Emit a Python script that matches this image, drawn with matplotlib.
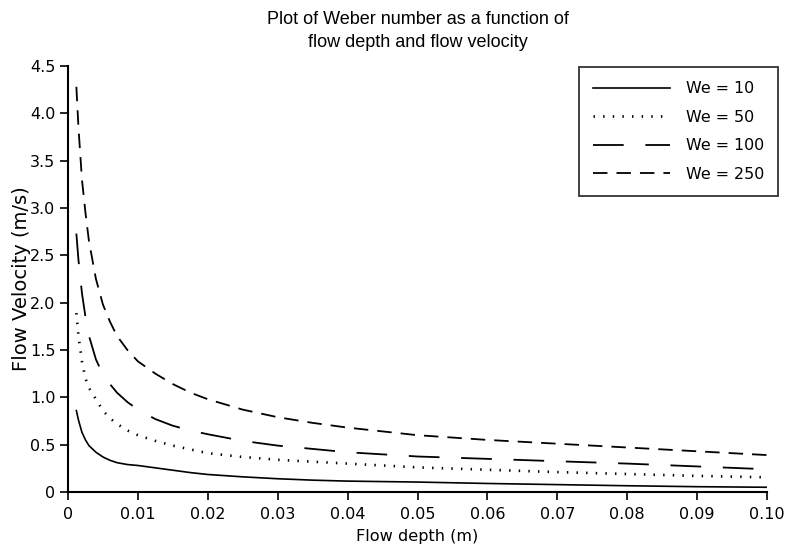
import matplotlib
matplotlib.use("Agg")
import matplotlib.pyplot as plt

plt.rcParams['font.family'] = ['DejaVu Sans']

depth = [0.0012, 0.0015, 0.002, 0.0025, 0.003, 0.004, 0.005, 0.006, 0.007, 0.0085,
         0.01, 0.0125, 0.015, 0.0175, 0.02, 0.025, 0.03, 0.035, 0.04, 0.05,
         0.06, 0.07, 0.08, 0.09, 0.10]

we10 = [0.86, 0.76, 0.63, 0.55, 0.49, 0.42, 0.37, 0.335, 0.31, 0.29,
        0.28, 0.255, 0.23, 0.205, 0.185, 0.16, 0.14, 0.125, 0.115, 0.105,
        0.09, 0.078, 0.066, 0.056, 0.05]
we50 = [1.89, 1.65, 1.38, 1.20, 1.10, 0.98, 0.86, 0.78, 0.72, 0.65,
        0.60, 0.54, 0.49, 0.45, 0.41, 0.37, 0.34, 0.32, 0.30, 0.26,
        0.235, 0.21, 0.19, 0.17, 0.155]
we100 = [2.73, 2.45, 2.10, 1.85, 1.65, 1.40, 1.24, 1.14, 1.05, 0.95,
         0.87, 0.77, 0.70, 0.65, 0.61, 0.54, 0.49, 0.455, 0.42, 0.375,
         0.35, 0.325, 0.30, 0.27, 0.24]
we250 = [4.28, 3.85, 3.30, 2.95, 2.65, 2.25, 1.98, 1.80, 1.65, 1.50,
         1.38, 1.25, 1.14, 1.05, 0.98, 0.87, 0.79, 0.73, 0.68, 0.60,
         0.55, 0.51, 0.47, 0.43, 0.39]

labels = ["We = 10", "We = 50", "We = 100", "We = 250"]
xticks = [0, 0.01, 0.02, 0.03, 0.04, 0.05, 0.06, 0.07, 0.08, 0.09, 0.10]
xticklabels = ["0", "0.01", "0.02", "0.03", "0.04", "0.05", "0.06", "0.07", "0.08", "0.09", "0.10"]
yticks = [0, 0.5, 1.0, 1.5, 2.0, 2.5, 3.0, 3.5, 4.0, 4.5]
yticklabels = ["0", "0.5", "1.0", "1.5", "2.0", "2.5", "3.0", "3.5", "4.0", "4.5"]

fig = plt.figure(figsize=(7.96, 5.48), dpi=100)
ax = fig.add_axes([0.0854, 0.1022, 0.8782, 0.7774])

lw = 1.3
ax.plot(depth, we10, color='black', lw=1.2, linestyle='-', label=labels[0])
ax.plot(depth, we50, color='black', lw=1.9, linestyle=(0, (0.55, 3.1)), label=labels[1])
ax.plot(depth, we100, color='black', lw=lw, linestyle=(0, (17, 12)), label=labels[2])
ax.plot(depth, we250, color='black', lw=lw, linestyle=(0, (8, 5)), label=labels[3])

ax.set_xlim(0, 0.10)
ax.set_ylim(0, 4.5)
ax.set_xticks(xticks)
ax.set_xticklabels(xticklabels)
ax.set_yticks(yticks)
ax.set_yticklabels(yticklabels)
ax.tick_params(direction='out', length=6, width=1.2, labelsize=11.5, colors='black')
ax.tick_params(axis='x', pad=5)
ax.tick_params(axis='y', pad=3)
for s in ['top', 'right']:
    ax.spines[s].set_visible(False)
for s in ['left', 'bottom']:
    ax.spines[s].set_linewidth(1.5)

ax.set_xlabel("Flow depth (m)", fontsize=11.6, labelpad=5)
ax.set_ylabel("Flow Velocity (m/s)", fontsize=14, labelpad=-1)
ax.set_title("Plot of Weber number as a function of\nflow depth and flow velocity",
             fontsize=13, pad=14, linespacing=1.4, family=['Liberation Sans', 'DejaVu Sans'])

leg = ax.legend(loc='upper right', bbox_to_anchor=(778 / 796, 1 - 67 / 548),
                bbox_transform=fig.transFigure, frameon=True, fancybox=False,
                edgecolor='black', fontsize=11.4, handlelength=4.9,
                labelspacing=0.85, borderpad=0.9, handletextpad=0.95, borderaxespad=0)
leg.get_frame().set_linewidth(1.3)

fig.savefig("out.png", dpi=100)
